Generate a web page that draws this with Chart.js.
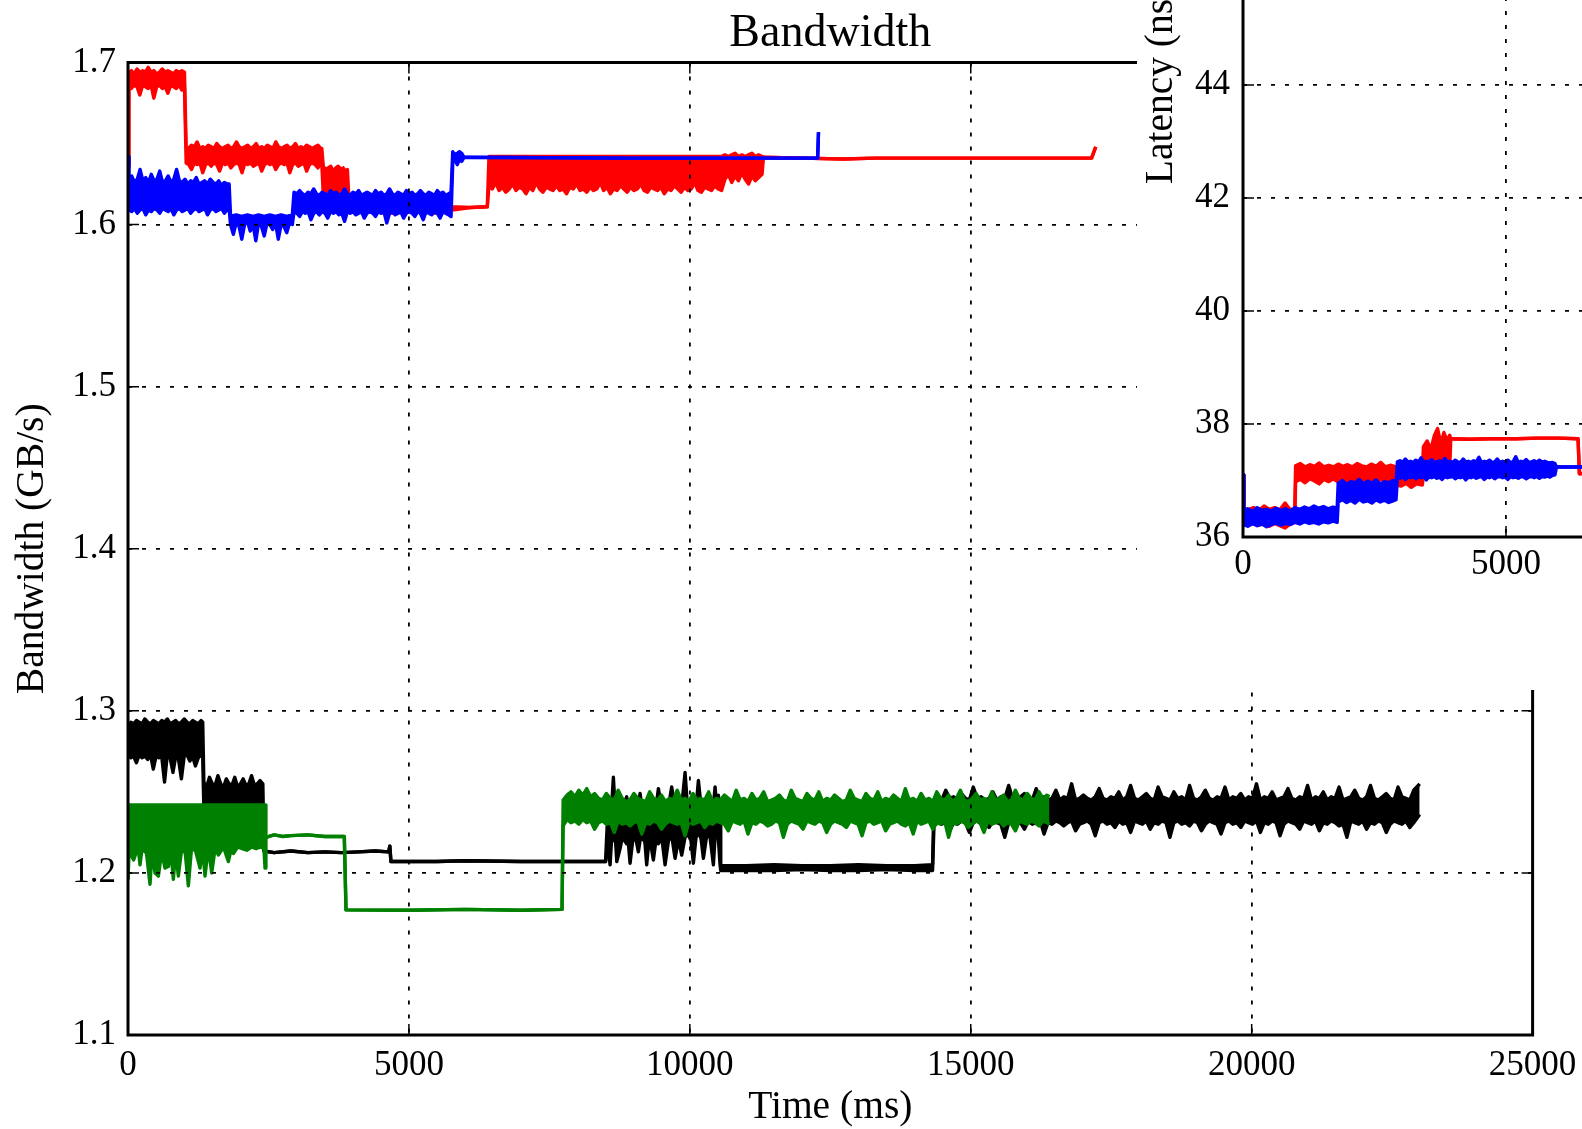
<!DOCTYPE html>
<html>
<head>
<meta charset="utf-8">
<title>Bandwidth</title>
<script src="https://cdn.jsdelivr.net/npm/chart.js@4.4.1/dist/chart.umd.min.js"></script>
<style>
  html, body { margin: 0; padding: 0; background: #fff; overflow: hidden; }
  #wrap { position: relative; width: 1582px; height: 1129px; overflow: hidden; background: #fff; }
  #bandwidth { position: absolute; left: 0; top: 0; }
  #latency { position: absolute; left: 1137px; top: -400px; background: #fff; }
</style>
</head>
<body>
<div id="wrap">
  <canvas id="bandwidth" width="1582" height="1129"></canvas>
  <canvas id="latency" width="682" height="1090"></canvas>
</div>
<script>
// Each row: [time (ms), low edge, high edge] of the trace at that time.
// Noisy stretches are kept as their envelope, quiet ones have low == high.

// Bandwidth (GB/s)
const redBandwidth = [
  [0, 1.636, 1.636], [15, 1.686, 1.694], [60, 1.684, 1.695], [110, 1.686, 1.693],
  [160, 1.685, 1.696], [210, 1.680, 1.694], [260, 1.686, 1.695], [310, 1.685, 1.694],
  [360, 1.684, 1.697], [410, 1.686, 1.694], [460, 1.678, 1.695], [510, 1.685, 1.693],
  [560, 1.686, 1.694], [610, 1.684, 1.696], [660, 1.685, 1.694], [710, 1.681, 1.695],
  [760, 1.686, 1.694], [810, 1.685, 1.693], [860, 1.684, 1.695], [910, 1.686, 1.694],
  [960, 1.683, 1.695], [1005, 1.685, 1.694],
  [1035, 1.638, 1.648], [1080, 1.637, 1.647], [1130, 1.634, 1.649], [1180, 1.638, 1.648],
  [1230, 1.637, 1.651], [1280, 1.638, 1.647], [1330, 1.632, 1.648], [1380, 1.637, 1.647],
  [1430, 1.638, 1.649], [1480, 1.636, 1.648], [1530, 1.638, 1.647], [1580, 1.637, 1.650],
  [1630, 1.633, 1.648], [1680, 1.638, 1.647], [1730, 1.637, 1.648], [1780, 1.638, 1.649],
  [1830, 1.635, 1.647], [1880, 1.637, 1.648], [1930, 1.638, 1.651], [1980, 1.637, 1.648],
  [2030, 1.632, 1.647], [2080, 1.638, 1.648], [2130, 1.637, 1.649], [2180, 1.638, 1.647],
  [2230, 1.636, 1.648], [2280, 1.637, 1.650], [2330, 1.638, 1.647], [2380, 1.633, 1.648],
  [2430, 1.637, 1.647], [2480, 1.638, 1.649], [2530, 1.637, 1.648], [2580, 1.638, 1.647],
  [2630, 1.634, 1.651], [2680, 1.637, 1.648], [2730, 1.638, 1.647], [2780, 1.637, 1.648],
  [2830, 1.638, 1.649], [2880, 1.632, 1.647], [2930, 1.637, 1.648], [2980, 1.638, 1.650],
  [3030, 1.636, 1.647], [3080, 1.637, 1.648], [3130, 1.638, 1.647], [3180, 1.633, 1.649],
  [3230, 1.637, 1.648], [3280, 1.638, 1.647], [3330, 1.637, 1.648], [3380, 1.635, 1.649],
  [3430, 1.638, 1.647], [3450, 1.637, 1.647],
  [3475, 1.619, 1.636], [3520, 1.622, 1.634], [3560, 1.618, 1.635], [3610, 1.621, 1.636],
  [3650, 1.617, 1.633], [3700, 1.620, 1.635], [3740, 1.619, 1.636], [3790, 1.621, 1.634],
  [3830, 1.618, 1.635], [3870, 1.620, 1.633], [3905, 1.619, 1.634],
  [3930, 1.608, 1.617], [4300, 1.608, 1.616], [4700, 1.607, 1.617], [5100, 1.608, 1.616],
  [5500, 1.607, 1.617], [5770, 1.609, 1.611], [6100, 1.6105, 1.6105], [6395, 1.611, 1.611],
  [6425, 1.624, 1.642], [6485, 1.622, 1.642], [6545, 1.626, 1.642], [6605, 1.621, 1.642],
  [6665, 1.623, 1.642], [6725, 1.620, 1.642], [6785, 1.622, 1.642], [6845, 1.625, 1.642],
  [6905, 1.621, 1.642], [6965, 1.623, 1.642], [7025, 1.622, 1.642], [7085, 1.619, 1.642],
  [7145, 1.623, 1.642], [7205, 1.621, 1.642], [7265, 1.626, 1.642], [7325, 1.622, 1.642],
  [7385, 1.620, 1.642], [7445, 1.623, 1.642], [7505, 1.622, 1.642], [7565, 1.621, 1.642],
  [7625, 1.624, 1.642], [7685, 1.621, 1.642], [7745, 1.622, 1.642], [7805, 1.619, 1.642],
  [7865, 1.623, 1.642], [7925, 1.622, 1.642], [7985, 1.625, 1.642], [8045, 1.621, 1.642],
  [8105, 1.622, 1.642], [8165, 1.620, 1.642], [8225, 1.623, 1.642], [8285, 1.621, 1.642],
  [8345, 1.622, 1.642], [8405, 1.626, 1.642], [8465, 1.621, 1.642], [8525, 1.623, 1.642],
  [8585, 1.619, 1.642], [8645, 1.622, 1.642], [8705, 1.621, 1.642], [8765, 1.624, 1.642],
  [8825, 1.622, 1.642], [8885, 1.620, 1.642], [8945, 1.623, 1.642], [9005, 1.621, 1.642],
  [9065, 1.622, 1.642], [9125, 1.625, 1.642], [9185, 1.621, 1.642], [9245, 1.620, 1.642],
  [9305, 1.623, 1.642], [9365, 1.622, 1.642], [9425, 1.621, 1.642], [9485, 1.623, 1.642],
  [9545, 1.619, 1.642], [9605, 1.622, 1.642], [9665, 1.621, 1.642], [9725, 1.624, 1.642],
  [9785, 1.622, 1.642], [9845, 1.620, 1.642], [9905, 1.623, 1.642], [9965, 1.621, 1.642],
  [10025, 1.622, 1.642], [10085, 1.626, 1.642], [10145, 1.621, 1.642], [10205, 1.620, 1.642],
  [10265, 1.623, 1.642], [10325, 1.622, 1.642], [10385, 1.621, 1.642], [10445, 1.624, 1.642],
  [10505, 1.622, 1.642], [10565, 1.621, 1.642],
  [10625, 1.628, 1.643], [10685, 1.631, 1.642], [10745, 1.626, 1.643], [10805, 1.630, 1.644],
  [10865, 1.627, 1.642], [10925, 1.632, 1.643], [10985, 1.628, 1.642], [11045, 1.625, 1.643],
  [11105, 1.630, 1.644], [11165, 1.627, 1.642], [11225, 1.629, 1.643], [11285, 1.631, 1.642],
  [11310, 1.6415, 1.6415], [12000, 1.641, 1.641], [12730, 1.6405, 1.6405], [13300, 1.641, 1.641],
  [15000, 1.641, 1.641], [17150, 1.641, 1.641], [17225, 1.648, 1.648]
];

const blueBandwidth = [
  [0, 1.642, 1.642], [15, 1.609, 1.627], [65, 1.608, 1.630], [115, 1.610, 1.626],
  [165, 1.607, 1.628], [215, 1.609, 1.634], [265, 1.610, 1.627], [315, 1.606, 1.629],
  [365, 1.609, 1.626], [415, 1.608, 1.631], [465, 1.610, 1.627], [515, 1.609, 1.628],
  [565, 1.607, 1.633], [615, 1.610, 1.626], [665, 1.609, 1.627], [715, 1.608, 1.630],
  [765, 1.610, 1.626], [815, 1.606, 1.628], [865, 1.609, 1.634], [915, 1.610, 1.627],
  [965, 1.608, 1.626], [1015, 1.609, 1.628], [1065, 1.610, 1.625], [1115, 1.607, 1.627],
  [1165, 1.609, 1.626], [1215, 1.610, 1.629], [1265, 1.608, 1.625], [1315, 1.609, 1.626],
  [1365, 1.610, 1.627], [1415, 1.606, 1.625], [1465, 1.609, 1.628], [1515, 1.610, 1.626],
  [1565, 1.608, 1.625], [1615, 1.609, 1.627], [1665, 1.610, 1.624], [1715, 1.607, 1.626],
  [1765, 1.609, 1.625], [1800, 1.610, 1.625],
  [1825, 1.600, 1.6055], [1875, 1.594, 1.6055], [1925, 1.601, 1.606], [1975, 1.599, 1.6055],
  [2025, 1.591, 1.605], [2075, 1.600, 1.6055], [2125, 1.602, 1.606], [2175, 1.596, 1.6055],
  [2225, 1.600, 1.605], [2275, 1.590, 1.6055], [2325, 1.601, 1.606], [2375, 1.599, 1.6055],
  [2425, 1.593, 1.605], [2475, 1.601, 1.6055], [2525, 1.600, 1.606], [2575, 1.597, 1.6055],
  [2625, 1.601, 1.605], [2675, 1.591, 1.6055], [2725, 1.600, 1.606], [2775, 1.599, 1.6055],
  [2825, 1.595, 1.605], [2875, 1.601, 1.6055], [2925, 1.600, 1.606],
  [2955, 1.608, 1.620], [3005, 1.607, 1.619], [3055, 1.605, 1.621], [3105, 1.608, 1.619],
  [3155, 1.607, 1.618], [3205, 1.608, 1.620], [3255, 1.603, 1.619], [3305, 1.607, 1.622],
  [3355, 1.608, 1.619], [3405, 1.606, 1.618], [3455, 1.608, 1.620], [3505, 1.607, 1.619],
  [3555, 1.604, 1.618], [3605, 1.608, 1.621], [3655, 1.607, 1.619], [3705, 1.608, 1.620],
  [3755, 1.606, 1.618], [3805, 1.607, 1.619], [3855, 1.602, 1.622], [3905, 1.608, 1.619],
  [3955, 1.607, 1.618], [4005, 1.608, 1.620], [4055, 1.606, 1.619], [4105, 1.607, 1.621],
  [4155, 1.608, 1.618], [4205, 1.604, 1.619], [4255, 1.607, 1.620], [4305, 1.608, 1.619],
  [4355, 1.607, 1.618], [4405, 1.605, 1.621], [4455, 1.608, 1.619], [4505, 1.607, 1.620],
  [4555, 1.608, 1.618], [4605, 1.601, 1.619], [4655, 1.607, 1.622], [4705, 1.608, 1.619],
  [4755, 1.606, 1.618], [4805, 1.607, 1.620], [4855, 1.608, 1.619], [4905, 1.604, 1.618],
  [4955, 1.607, 1.621], [5005, 1.608, 1.619], [5055, 1.607, 1.620], [5105, 1.605, 1.618],
  [5155, 1.608, 1.619], [5205, 1.607, 1.621], [5255, 1.603, 1.619], [5305, 1.608, 1.618],
  [5355, 1.607, 1.620], [5405, 1.606, 1.619], [5455, 1.608, 1.618], [5505, 1.607, 1.621],
  [5555, 1.604, 1.619], [5605, 1.608, 1.620], [5655, 1.607, 1.618], [5705, 1.606, 1.619],
  [5750, 1.605, 1.620],
  [5780, 1.638, 1.645], [5820, 1.640, 1.643], [5860, 1.637, 1.644], [5900, 1.640, 1.645],
  [5940, 1.639, 1.644], [5980, 1.6415, 1.6415], [9000, 1.641, 1.641], [12275, 1.641, 1.641],
  [12290, 1.657, 1.657]
];

const blackBandwidth = [
  [0, 1.274, 1.290], [50, 1.271, 1.293], [100, 1.272, 1.292], [150, 1.268, 1.294],
  [200, 1.273, 1.293], [250, 1.271, 1.292], [300, 1.272, 1.295], [350, 1.270, 1.293],
  [400, 1.273, 1.292], [450, 1.264, 1.294], [500, 1.272, 1.293], [550, 1.271, 1.292],
  [600, 1.272, 1.294], [650, 1.256, 1.293], [700, 1.273, 1.295], [750, 1.271, 1.292],
  [800, 1.262, 1.293], [850, 1.272, 1.294], [900, 1.270, 1.292], [950, 1.258, 1.293],
  [1000, 1.272, 1.295], [1050, 1.273, 1.293], [1100, 1.269, 1.292], [1150, 1.272, 1.294],
  [1200, 1.266, 1.293], [1250, 1.271, 1.292], [1300, 1.273, 1.294], [1330, 1.271, 1.293],
  [1350, 1.240, 1.256], [1400, 1.240, 1.253], [1450, 1.240, 1.259], [1500, 1.240, 1.255],
  [1550, 1.240, 1.254], [1600, 1.240, 1.260], [1650, 1.240, 1.255], [1700, 1.240, 1.253],
  [1750, 1.240, 1.258], [1800, 1.240, 1.255], [1850, 1.240, 1.254], [1900, 1.240, 1.259],
  [1950, 1.240, 1.253], [2000, 1.240, 1.255], [2050, 1.240, 1.258], [2100, 1.240, 1.254],
  [2150, 1.240, 1.255], [2200, 1.240, 1.260], [2250, 1.240, 1.254], [2300, 1.240, 1.255],
  [2350, 1.240, 1.257], [2400, 1.240, 1.255],
  [2420, 1.2135, 1.2135], [2600, 1.2125, 1.2125], [2900, 1.2135, 1.2135], [3200, 1.2125, 1.2125],
  [3500, 1.213, 1.213], [3800, 1.2125, 1.2125], [4100, 1.213, 1.213], [4400, 1.2135, 1.2135],
  [4640, 1.213, 1.213], [4660, 1.2165, 1.2165], [4680, 1.207, 1.207], [5500, 1.207, 1.207],
  [6000, 1.2075, 1.2075], [7000, 1.207, 1.207], [8500, 1.207, 1.207],
  [8540, 1.218, 1.238], [8580, 1.205, 1.240], [8610, 1.222, 1.242], [8639, 1.220, 1.259],
  [8670, 1.224, 1.240], [8700, 1.207, 1.241], [8758, 1.215, 1.238], [8800, 1.222, 1.240],
  [8876, 1.218, 1.247], [8900, 1.221, 1.240], [8936, 1.206, 1.239], [8980, 1.219, 1.241],
  [9030, 1.223, 1.240], [9084, 1.213, 1.242], [9114, 1.220, 1.249], [9150, 1.222, 1.240],
  [9200, 1.219, 1.241], [9232, 1.205, 1.240], [9280, 1.223, 1.242], [9351, 1.208, 1.240],
  [9400, 1.221, 1.241], [9440, 1.218, 1.252], [9500, 1.222, 1.240], [9559, 1.205, 1.242],
  [9620, 1.220, 1.241], [9677, 1.223, 1.253], [9737, 1.209, 1.240], [9800, 1.221, 1.242],
  [9855, 1.211, 1.241], [9915, 1.222, 1.262], [9960, 1.224, 1.240], [10020, 1.220, 1.242],
  [10063, 1.206, 1.241], [10110, 1.222, 1.240], [10152, 1.225, 1.257], [10200, 1.221, 1.241],
  [10241, 1.209, 1.240], [10300, 1.223, 1.242], [10360, 1.222, 1.240], [10419, 1.205, 1.241],
  [10449, 1.222, 1.253], [10480, 1.224, 1.240], [10508, 1.221, 1.248], [10538, 1.205, 1.240],
  [10550, 1.2015, 1.2045], [11000, 1.2015, 1.2045], [11500, 1.2015, 1.205], [12000, 1.202, 1.2045],
  [12500, 1.2015, 1.2045], [13000, 1.2015, 1.205], [13500, 1.202, 1.2045], [14000, 1.2015, 1.2045],
  [14320, 1.2015, 1.205],
  [14345, 1.229, 1.243], [14415, 1.231, 1.246], [14485, 1.230, 1.245], [14555, 1.232, 1.251],
  [14625, 1.226, 1.246], [14695, 1.231, 1.247], [14765, 1.230, 1.245], [14835, 1.232, 1.249],
  [14905, 1.231, 1.246], [14975, 1.225, 1.245], [15045, 1.231, 1.253], [15115, 1.232, 1.246],
  [15185, 1.230, 1.247], [15255, 1.231, 1.245], [15325, 1.228, 1.246], [15395, 1.232, 1.250],
  [15465, 1.231, 1.245], [15535, 1.230, 1.247], [15605, 1.222, 1.246], [15675, 1.231, 1.254],
  [15745, 1.232, 1.246], [15815, 1.230, 1.245], [15885, 1.231, 1.247], [15955, 1.227, 1.249],
  [16025, 1.232, 1.246], [16095, 1.230, 1.245], [16165, 1.231, 1.252], [16235, 1.232, 1.246],
  [16305, 1.224, 1.247], [16375, 1.231, 1.245], [16445, 1.230, 1.246], [16515, 1.232, 1.251],
  [16585, 1.231, 1.245], [16655, 1.229, 1.247], [16725, 1.231, 1.246], [16795, 1.232, 1.255],
  [16865, 1.226, 1.245], [16935, 1.230, 1.246], [17005, 1.231, 1.248], [17075, 1.232, 1.246],
  [17145, 1.230, 1.245], [17215, 1.223, 1.247], [17285, 1.231, 1.252], [17355, 1.232, 1.246],
  [17425, 1.230, 1.245], [17495, 1.231, 1.247], [17565, 1.228, 1.246], [17635, 1.232, 1.250],
  [17705, 1.230, 1.245], [17775, 1.231, 1.247], [17845, 1.225, 1.254], [17915, 1.232, 1.246],
  [17985, 1.231, 1.245], [18055, 1.230, 1.247], [18125, 1.232, 1.249], [18195, 1.227, 1.246],
  [18265, 1.231, 1.245], [18335, 1.230, 1.253], [18405, 1.232, 1.247], [18475, 1.231, 1.246],
  [18545, 1.222, 1.245], [18615, 1.231, 1.250], [18685, 1.232, 1.246], [18755, 1.230, 1.247],
  [18825, 1.231, 1.245], [18895, 1.229, 1.254], [18965, 1.232, 1.246], [19035, 1.231, 1.245],
  [19105, 1.226, 1.247], [19175, 1.230, 1.251], [19245, 1.232, 1.246], [19315, 1.231, 1.245],
  [19385, 1.230, 1.247], [19455, 1.224, 1.246], [19525, 1.231, 1.253], [19595, 1.232, 1.245],
  [19665, 1.230, 1.247], [19735, 1.231, 1.246], [19805, 1.228, 1.249], [19875, 1.232, 1.245],
  [19945, 1.231, 1.247], [20015, 1.230, 1.246], [20085, 1.232, 1.255], [20155, 1.225, 1.245],
  [20225, 1.231, 1.247], [20295, 1.230, 1.246], [20365, 1.232, 1.250], [20435, 1.231, 1.245],
  [20505, 1.223, 1.246], [20575, 1.230, 1.247], [20645, 1.232, 1.252], [20715, 1.231, 1.246],
  [20785, 1.230, 1.245], [20855, 1.227, 1.247], [20925, 1.232, 1.246], [20995, 1.231, 1.254],
  [21065, 1.230, 1.245], [21135, 1.232, 1.247], [21205, 1.226, 1.246], [21275, 1.231, 1.250],
  [21345, 1.230, 1.245], [21415, 1.232, 1.247], [21485, 1.231, 1.246], [21555, 1.229, 1.253],
  [21625, 1.230, 1.245], [21695, 1.222, 1.246], [21765, 1.232, 1.247], [21835, 1.231, 1.251],
  [21905, 1.230, 1.246], [21975, 1.232, 1.245], [22045, 1.227, 1.247], [22115, 1.231, 1.254],
  [22185, 1.230, 1.246], [22255, 1.232, 1.245], [22325, 1.231, 1.247], [22395, 1.225, 1.249],
  [22465, 1.230, 1.246], [22535, 1.232, 1.245], [22605, 1.231, 1.253], [22675, 1.230, 1.247],
  [22745, 1.232, 1.246], [22815, 1.228, 1.245], [22885, 1.231, 1.251], [22990, 1.236, 1.255]
];

const greenBandwidth = [
  [0, 1.196, 1.196], [20, 1.214, 1.242], [100, 1.208, 1.242], [180, 1.216, 1.242],
  [214, 1.205, 1.242], [250, 1.215, 1.242], [330, 1.212, 1.242], [392, 1.193, 1.242],
  [430, 1.214, 1.242], [481, 1.200, 1.242], [540, 1.198, 1.242], [600, 1.213, 1.242],
  [659, 1.203, 1.242], [718, 1.204, 1.242], [760, 1.215, 1.242], [807, 1.196, 1.242],
  [850, 1.214, 1.242], [896, 1.198, 1.242], [960, 1.216, 1.242], [1020, 1.212, 1.242],
  [1074, 1.192, 1.242], [1130, 1.215, 1.242], [1200, 1.214, 1.242], [1282, 1.203, 1.242],
  [1330, 1.215, 1.242], [1371, 1.198, 1.242], [1430, 1.216, 1.242], [1490, 1.200, 1.242],
  [1550, 1.215, 1.242], [1608, 1.211, 1.242], [1700, 1.216, 1.242], [1786, 1.207, 1.242],
  [1840, 1.215, 1.242], [1875, 1.212, 1.242], [1950, 1.216, 1.242], [2030, 1.215, 1.242],
  [2113, 1.214, 1.242], [2200, 1.216, 1.242], [2280, 1.215, 1.242], [2360, 1.216, 1.242],
  [2420, 1.215, 1.242], [2439, 1.203, 1.242],
  [2455, 1.222, 1.222], [2600, 1.2235, 1.2235], [2750, 1.2225, 1.2225], [2900, 1.223, 1.223],
  [3200, 1.2235, 1.2235], [3500, 1.2225, 1.2225], [3850, 1.2225, 1.2225],
  [3880, 1.1772, 1.1772], [5000, 1.177, 1.177], [6000, 1.1775, 1.1775], [7000, 1.177, 1.177],
  [7725, 1.1775, 1.1775],
  [7745, 1.229, 1.245], [7815, 1.233, 1.248], [7885, 1.231, 1.250], [7955, 1.232, 1.247],
  [8025, 1.230, 1.251], [8095, 1.233, 1.248], [8165, 1.231, 1.252], [8235, 1.232, 1.247],
  [8305, 1.227, 1.249], [8375, 1.231, 1.246], [8445, 1.232, 1.245], [8515, 1.230, 1.249],
  [8585, 1.231, 1.246], [8655, 1.225, 1.245], [8725, 1.232, 1.251], [8795, 1.230, 1.246],
  [8865, 1.231, 1.244], [8935, 1.229, 1.245], [9005, 1.231, 1.249], [9075, 1.232, 1.246],
  [9145, 1.224, 1.245], [9215, 1.231, 1.244], [9285, 1.230, 1.250], [9355, 1.232, 1.246],
  [9425, 1.231, 1.245], [9495, 1.227, 1.248], [9565, 1.230, 1.244], [9635, 1.232, 1.246],
  [9705, 1.231, 1.245], [9775, 1.230, 1.251], [9845, 1.231, 1.245], [9915, 1.223, 1.246],
  [9985, 1.232, 1.244], [10055, 1.230, 1.249], [10125, 1.231, 1.245], [10195, 1.232, 1.246],
  [10265, 1.228, 1.245], [10335, 1.231, 1.250], [10405, 1.230, 1.244], [10475, 1.232, 1.246],
  [10545, 1.231, 1.245], [10615, 1.230, 1.248], [10685, 1.226, 1.246], [10755, 1.232, 1.244],
  [10825, 1.231, 1.251], [10895, 1.230, 1.245], [10965, 1.232, 1.246], [11035, 1.224, 1.244],
  [11105, 1.231, 1.249], [11175, 1.230, 1.245], [11245, 1.232, 1.246], [11315, 1.231, 1.250],
  [11385, 1.229, 1.244], [11455, 1.230, 1.245], [11525, 1.232, 1.246], [11595, 1.231, 1.248],
  [11665, 1.222, 1.245], [11735, 1.230, 1.244], [11805, 1.232, 1.251], [11875, 1.231, 1.246],
  [11945, 1.230, 1.245], [12015, 1.227, 1.244], [12085, 1.232, 1.249], [12155, 1.231, 1.246],
  [12225, 1.230, 1.245], [12295, 1.232, 1.250], [12365, 1.231, 1.244], [12435, 1.225, 1.246],
  [12505, 1.230, 1.245], [12575, 1.232, 1.248], [12645, 1.231, 1.246], [12715, 1.230, 1.244],
  [12785, 1.228, 1.245], [12855, 1.232, 1.251], [12925, 1.231, 1.246], [12995, 1.230, 1.245],
  [13065, 1.223, 1.244], [13135, 1.231, 1.249], [13205, 1.232, 1.246], [13275, 1.230, 1.245],
  [13345, 1.231, 1.250], [13415, 1.232, 1.244], [13485, 1.226, 1.246], [13555, 1.230, 1.245],
  [13625, 1.231, 1.248], [13695, 1.232, 1.246], [13765, 1.230, 1.244], [13835, 1.229, 1.252],
  [13905, 1.231, 1.245], [13975, 1.224, 1.246], [14045, 1.232, 1.244], [14115, 1.230, 1.249],
  [14185, 1.231, 1.245], [14255, 1.232, 1.246], [14325, 1.227, 1.244], [14395, 1.231, 1.250],
  [14465, 1.230, 1.246], [14535, 1.232, 1.245], [14605, 1.222, 1.248], [14675, 1.231, 1.244],
  [14745, 1.230, 1.246], [14815, 1.232, 1.251], [14885, 1.231, 1.245], [14955, 1.228, 1.244],
  [15025, 1.230, 1.246], [15095, 1.232, 1.249], [15165, 1.231, 1.245], [15235, 1.225, 1.246],
  [15305, 1.232, 1.244], [15375, 1.230, 1.250], [15445, 1.231, 1.245], [15515, 1.232, 1.246],
  [15585, 1.229, 1.248], [15655, 1.231, 1.244], [15725, 1.230, 1.245], [15795, 1.226, 1.251],
  [15865, 1.232, 1.246], [15935, 1.231, 1.245], [16005, 1.230, 1.249], [16075, 1.232, 1.246],
  [16145, 1.231, 1.245], [16215, 1.229, 1.250], [16285, 1.232, 1.246], [16355, 1.231, 1.248],
  [16400, 1.230, 1.247]
];

// Latency (ns)
const redLatency = [
  [0, 37.10, 37.10], [15, 36.22, 36.50], [100, 36.20, 36.48], [200, 36.24, 36.52],
  [300, 36.21, 36.47], [400, 36.23, 36.55], [500, 36.19, 36.49], [600, 36.24, 36.52],
  [700, 36.20, 36.48], [800, 36.16, 36.60], [880, 36.22, 36.50], [960, 36.25, 36.48],
  [985, 36.30, 36.50],
  [1000, 36.98, 37.26], [1090, 37.02, 37.30], [1180, 36.96, 37.24], [1270, 37.03, 37.28],
  [1360, 36.99, 37.25], [1450, 36.94, 37.31], [1540, 37.02, 37.24], [1630, 36.98, 37.27],
  [1720, 37.03, 37.24], [1810, 36.97, 37.29], [1900, 37.01, 37.25], [1990, 36.95, 37.28],
  [2080, 37.02, 37.24], [2170, 36.98, 37.30], [2260, 37.03, 37.26], [2350, 36.96, 37.24],
  [2440, 37.01, 37.29], [2530, 36.97, 37.25], [2620, 37.02, 37.32], [2710, 36.99, 37.24],
  [2800, 37.00, 37.27], [2880, 36.98, 37.25],
  [2900, 36.93, 37.15], [3000, 36.90, 37.15], [3100, 36.95, 37.18], [3200, 36.88, 37.16],
  [3300, 36.94, 37.18], [3410, 36.92, 37.17],
  [3430, 37.10, 37.60], [3500, 37.15, 37.70], [3570, 37.10, 37.55], [3640, 37.15, 37.80],
  [3700, 37.10, 37.92], [3760, 37.15, 37.65], [3820, 37.10, 37.85], [3880, 37.15, 37.70],
  [3930, 37.20, 37.80],
  [3950, 37.74, 37.74], [4300, 37.73, 37.73], [4700, 37.74, 37.74], [5200, 37.74, 37.74],
  [5600, 37.75, 37.75], [6000, 37.75, 37.75], [6370, 37.74, 37.74],
  [6395, 37.12, 37.12], [6800, 37.15, 37.15]
];

const blueLatency = [
  [0, 37.10, 37.10], [15, 36.22, 36.46], [90, 36.19, 36.50], [180, 36.24, 36.45],
  [270, 36.20, 36.52], [360, 36.23, 36.47], [450, 36.18, 36.49], [540, 36.22, 36.46],
  [630, 36.25, 36.51], [720, 36.21, 36.47], [810, 36.24, 36.50], [900, 36.22, 36.46],
  [990, 36.26, 36.52], [1080, 36.23, 36.49], [1170, 36.27, 36.53], [1260, 36.24, 36.50],
  [1350, 36.26, 36.55], [1440, 36.23, 36.51], [1530, 36.27, 36.54], [1620, 36.25, 36.50],
  [1710, 36.28, 36.53], [1790, 36.26, 36.51],
  [1810, 36.62, 36.95], [1890, 36.66, 37.00], [1970, 36.61, 36.93], [2050, 36.65, 36.98],
  [2130, 36.60, 36.96], [2210, 36.67, 37.02], [2290, 36.62, 36.94], [2370, 36.64, 36.99],
  [2450, 36.60, 36.95], [2530, 36.66, 37.01], [2610, 36.62, 36.94], [2690, 36.65, 36.98],
  [2770, 36.61, 36.96], [2850, 36.64, 37.00], [2910, 36.66, 36.97],
  [2935, 37.06, 37.33], [2985, 37.04, 37.35], [3035, 37.07, 37.32], [3085, 37.02, 37.38],
  [3135, 37.06, 37.33], [3185, 37.05, 37.34], [3235, 37.07, 37.32], [3285, 37.03, 37.36],
  [3335, 37.06, 37.33], [3385, 37.05, 37.40], [3435, 37.07, 37.32], [3485, 37.01, 37.34],
  [3535, 37.06, 37.33], [3585, 37.05, 37.37], [3635, 37.07, 37.32], [3685, 37.04, 37.33],
  [3735, 37.06, 37.35], [3785, 37.02, 37.32], [3835, 37.07, 37.39], [3885, 37.05, 37.33],
  [3935, 37.06, 37.34], [3985, 37.07, 37.32], [4035, 37.03, 37.36], [4085, 37.06, 37.33],
  [4135, 37.05, 37.32], [4185, 37.07, 37.38], [4235, 37.01, 37.33], [4285, 37.06, 37.34],
  [4335, 37.05, 37.32], [4385, 37.07, 37.35], [4435, 37.04, 37.33], [4485, 37.06, 37.41],
  [4535, 37.07, 37.32], [4585, 37.02, 37.34], [4635, 37.06, 37.33], [4685, 37.05, 37.36],
  [4735, 37.07, 37.32], [4785, 37.03, 37.33], [4835, 37.06, 37.38], [4885, 37.07, 37.32],
  [4935, 37.05, 37.34], [4985, 37.06, 37.33], [5035, 37.02, 37.36], [5085, 37.07, 37.32],
  [5135, 37.05, 37.33], [5185, 37.06, 37.42], [5235, 37.04, 37.32], [5285, 37.07, 37.34],
  [5335, 37.06, 37.33], [5385, 37.03, 37.37], [5435, 37.06, 37.32], [5485, 37.07, 37.33],
  [5535, 37.05, 37.35], [5585, 37.07, 37.32], [5635, 37.04, 37.36], [5685, 37.07, 37.33],
  [5735, 37.06, 37.34], [5785, 37.08, 37.32], [5835, 37.06, 37.31], [5885, 37.09, 37.32],
  [5930, 37.10, 37.30], [5960, 37.24, 37.24], [6800, 37.24, 37.24]
];

// Axis ticks
const timeTicks = [0, 5000, 10000, 15000, 20000, 25000];
const bandwidthTicks = [1.1, 1.2, 1.3, 1.4, 1.5, 1.6, 1.7];
const latencyTicks = [36, 38, 40, 42, 44, 46, 48, 50, 52];
const latencyTimeTicks = [0, 5000, 10000];

const SERIF = "'Liberation Serif', 'Times New Roman', serif";
const tickFont = { family: SERIF, size: 35, lineHeight: 1.2 };
const labelFont = { family: SERIF, size: 39.5, lineHeight: 1.1 };

// Two datasets per trace: the upper edge, then the lower edge filled up to it
function traceDatasets(rows, color, order) {
  return [
    {
      data: rows.map((r) => ({ x: r[0], y: r[2] })),
      borderColor: color,
      backgroundColor: color,
      fill: false,
      order: order,
    },
    {
      data: rows.map((r) => ({ x: r[0], y: r[1] })),
      borderColor: color,
      backgroundColor: color,
      fill: "-1",
      order: order,
    },
  ];
}

// Box around the plot area with the tick marks pointing inward
const frameTicks = {
  id: "frameTicks",
  afterDraw(chart, args, opts) {
    const { ctx, chartArea: a, scales } = chart;
    const len = opts.length || 11;
    ctx.save();
    ctx.strokeStyle = "#000";
    ctx.lineWidth = 1.5;
    ctx.beginPath();
    scales.x.ticks.forEach((t) => {
      const px = scales.x.getPixelForValue(t.value);
      ctx.moveTo(px, a.bottom);
      ctx.lineTo(px, a.bottom - len);
      ctx.moveTo(px, a.top);
      ctx.lineTo(px, a.top + len);
    });
    scales.y.ticks.forEach((t) => {
      const py = scales.y.getPixelForValue(t.value);
      ctx.moveTo(a.left, py);
      ctx.lineTo(a.left + len, py);
      ctx.moveTo(a.right, py);
      ctx.lineTo(a.right - len, py);
    });
    ctx.stroke();
    ctx.lineWidth = 3;
    ctx.strokeRect(a.left, a.top, a.right - a.left, a.bottom - a.top);
    ctx.restore();
  },
};

// Plot title above the box
const plotTitle = {
  id: "plotTitle",
  afterDraw(chart, args, opts) {
    if (!opts.text) return;
    const { ctx, chartArea: a } = chart;
    ctx.save();
    ctx.font = opts.size + "px " + SERIF;
    ctx.fillStyle = "#000";
    ctx.textAlign = "center";
    ctx.textBaseline = "alphabetic";
    ctx.fillText(opts.text, (a.left + a.right) / 2, a.top - opts.offset);
    ctx.restore();
  },
};

function axis(min, max, ticks, format, title, tickPadding, titlePadding, fit) {
  return {
    type: "linear",
    min: min,
    max: max,
    afterBuildTicks: (scale) => {
      scale.ticks = ticks.map((v) => ({ value: v }));
    },
    afterFit: fit,
    ticks: {
      font: tickFont,
      color: "#000",
      maxRotation: 0,
      autoSkip: false,
      padding: tickPadding,
      callback: format,
    },
    grid: { color: "#000", lineWidth: 1.8, drawTicks: false, z: 1 },
    border: { display: false, dash: [4, 10] },
    title: {
      display: title !== "",
      text: title,
      font: labelFont,
      color: "#000",
      padding: titlePadding,
    },
  };
}

// Fixed scale sizes so the plot box lands at the same place every time
function fitWidth(w) {
  return (s) => { s.width = w; s.paddingTop = 0; s.paddingBottom = 0; };
}
function fitHeight(h) {
  return (s) => { s.height = h; s.paddingLeft = 0; s.paddingRight = 0; };
}

const commonOptions = {
  responsive: false,
  animation: false,
  devicePixelRatio: 1,
  events: [],
  elements: {
    point: { radius: 0 },
    line: { borderWidth: 3.4, tension: 0, borderJoinStyle: "round" },
  },
};

// Bandwidth chart
new Chart(document.getElementById("bandwidth"), {
  type: "line",
  data: {
    datasets: [
      ...traceDatasets(blueBandwidth, "#0000ff", 0),
      ...traceDatasets(redBandwidth, "#ff0000", 1),
      ...traceDatasets(greenBandwidth, "#008000", 2),
      ...traceDatasets(blackBandwidth, "#000000", 3),
    ],
  },
  options: {
    ...commonOptions,
    layout: { padding: { left: 0, top: 62.5, right: 49.4, bottom: 0 } },
    plugins: {
      legend: { display: false },
      tooltip: { enabled: false },
      plotTitle: { text: "Bandwidth", size: 46, offset: 17 },
      frameTicks: { length: 11 },
    },
    scales: {
      x: axis(0, 25000, timeTicks, (v) => String(v), "Time (ms)", 10,
        { top: 0, bottom: 0 }, fitHeight(94)),
      y: axis(1.1, 1.7, bandwidthTicks, (v) => v.toFixed(1), "Bandwidth (GB/s)", 12,
        { top: 11, bottom: 0 }, fitWidth(128)),
    },
  },
  plugins: [frameTicks, plotTitle],
});

// Latency chart, laid over the upper right corner
new Chart(document.getElementById("latency"), {
  type: "line",
  data: {
    datasets: [
      ...traceDatasets(blueLatency, "#0000ff", 0),
      ...traceDatasets(redLatency, "#ff0000", 1),
    ],
  },
  options: {
    ...commonOptions,
    layout: { padding: { left: 0, top: 33, right: 50, bottom: 0 } },
    plugins: {
      legend: { display: false },
      tooltip: { enabled: false },
      frameTicks: { length: 11 },
    },
    scales: {
      x: axis(0, 10000, latencyTimeTicks, (v) => String(v), "", 7,
        { top: 0, bottom: 0 }, fitHeight(153)),
      y: axis(36, 52, latencyTicks, (v) => String(v), "Latency (ns)", 13,
        { top: 3, bottom: 0 }, fitWidth(106)),
    },
  },
  plugins: [frameTicks],
});
</script>
</body>
</html>
